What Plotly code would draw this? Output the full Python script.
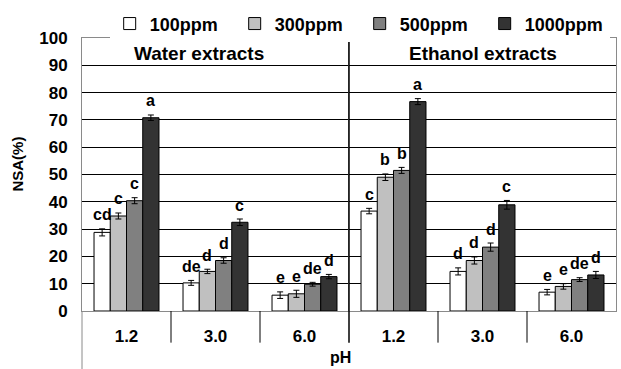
import plotly.graph_objects as go
from plotly.subplots import make_subplots

ph_labels = ["1.2", "3.0", "6.0"]
concentrations = ["100ppm", "300ppm", "500ppm", "1000ppm"]
panel_titles = ["Water extracts", "Ethanol extracts"]

# NSA(%) values: rows = concentration, cols = pH
water_vals = [
    [28.8, 10.3, 5.8],
    [34.8, 14.5, 6.3],
    [40.4, 18.5, 9.8],
    [70.8, 32.5, 12.6],
]
water_err = [
    [1.3, 0.9, 1.2],
    [1.1, 0.8, 1.3],
    [1.1, 1.0, 0.7],
    [1.0, 1.2, 0.8],
]
water_letters = [
    ["cd", "de", "e"],
    ["c", "d", "e"],
    ["c", "d", "de"],
    ["a", "c", "d"],
]
ethanol_vals = [
    [36.6, 14.5, 6.9],
    [49.0, 18.5, 9.0],
    [51.5, 23.4, 11.5],
    [76.7, 38.9, 13.2],
]
ethanol_err = [
    [1.0, 1.3, 1.0],
    [1.2, 1.3, 1.0],
    [1.1, 1.5, 0.7],
    [1.1, 1.6, 1.3],
]
ethanol_letters = [
    ["c", "d", "e"],
    ["b", "d", "e"],
    ["b", "d", "de"],
    ["a", "c", "d"],
]
y_ticks = list(range(0, 101, 10))

colors = ["#ffffff", "#c0c0c0", "#808080", "#333333"]
FONT = "Liberation Sans, Arial, sans-serif"
BARGAP = 0.27

fig = make_subplots(rows=1, cols=2, shared_yaxes=True, horizontal_spacing=0)

panels = [(water_vals, water_err, water_letters), (ethanol_vals, ethanol_err, ethanol_letters)]
title_x = [0.219, 0.751]
nb = len(concentrations)
bw = (1 - BARGAP) / nb
for p, (vals, errs, letters) in enumerate(panels):
    col = p + 1
    for k, conc in enumerate(concentrations):
        fig.add_trace(go.Bar(
            x=ph_labels, y=vals[k], name=conc,
            marker=dict(color=colors[k], line=dict(color="black", width=1)),
            error_y=dict(type="data", array=errs[k], color="black", thickness=1, width=3),
            legendgroup=conc, showlegend=(p == 0),
        ), row=1, col=col)
        off = -(1 - BARGAP) / 2 + bw * (k + 0.5)
        for i in range(len(ph_labels)):
            fig.add_annotation(
                x=i + off, y=vals[k][i] + errs[k][i],
                xref="x" if p == 0 else "x2", yref="y",
                text=letters[k][i], showarrow=False, yshift=14, yanchor="middle",
                xanchor="center",
                font=dict(family=FONT, size=16, color="black", weight="bold"),
            )
    fig.add_annotation(
        x=title_x[p], y=1, xref="paper", yref="paper", yshift=-15,
        text=panel_titles[p], showarrow=False, yanchor="middle", xanchor="center",
        font=dict(family=FONT, size=19, color="black", weight="bold"),
    )

frame = "#8a8a8a"
for ax in ["xaxis", "xaxis2"]:
    fig.layout[ax].update(
        showline=True, linecolor=frame, linewidth=1, mirror=True,
        ticks="", showgrid=False, ticklabelstandoff=10,
        tickfont=dict(family=FONT, size=17, color="black", weight="bold"),
    )
fig.update_yaxes(range=[0, 100], tickvals=y_ticks, showgrid=True, gridcolor="black",
                 gridwidth=1, showline=True, linecolor=frame, linewidth=1, zeroline=False,
                 ticks="", ticklabelstandoff=10,
                 tickfont=dict(family=FONT, size=17, color="black", weight="bold"))
fig.layout.yaxis2.update(mirror=True, showticklabels=False)

H = 276.0
below = 32 / H
shapes = []
for xb in [1 / 6, 2 / 6, 4 / 6, 5 / 6]:
    shapes.append(dict(type="line", xref="paper", yref="paper", x0=xb, x1=xb, y0=0, y1=-below,
                       line=dict(color="black", width=1)))
shapes.append(dict(type="line", xref="paper", yref="paper", x0=0.5, x1=0.5, y0=1, y1=-below,
                   line=dict(color="black", width=1.5), layer="above"))
shapes.append(dict(type="line", xref="paper", yref="paper", x0=0, x1=0, y0=0, y1=-60 / H,
                   line=dict(color=frame, width=1)))
fig.update_layout(shapes=shapes)

fig.add_annotation(x=(340 - 82) / 534, y=-(358 - 311) / H, xref="paper", yref="paper",
                   text="pH", showarrow=False, yanchor="middle", xanchor="center",
                   font=dict(family=FONT, size=16, color="black", weight="bold"))
fig.add_annotation(x=(18 - 82) / 534, y=(311 - 163) / H, xref="paper", yref="paper",
                   text="NSA(%)", showarrow=False, textangle=-90, xanchor="center", yanchor="middle",
                   font=dict(family=FONT, size=15, color="black", weight="bold"))

fig.update_layout(
    width=621, height=369,
    margin=dict(l=82, r=5, t=35, b=58),
    paper_bgcolor="white", plot_bgcolor="white",
    barmode="group", bargap=BARGAP, bargroupgap=0,
    legend=dict(orientation="h", x=0.52, xanchor="center", y=1 + 33 / H, yanchor="top",
                font=dict(family=FONT, size=18, color="black", weight="bold"),
                entrywidth=80, entrywidthmode="pixels", itemclick=False),
)

fig.write_html("out.html", config={"displayModeBar": False},
               post_script="document.body.style.margin='0';")
